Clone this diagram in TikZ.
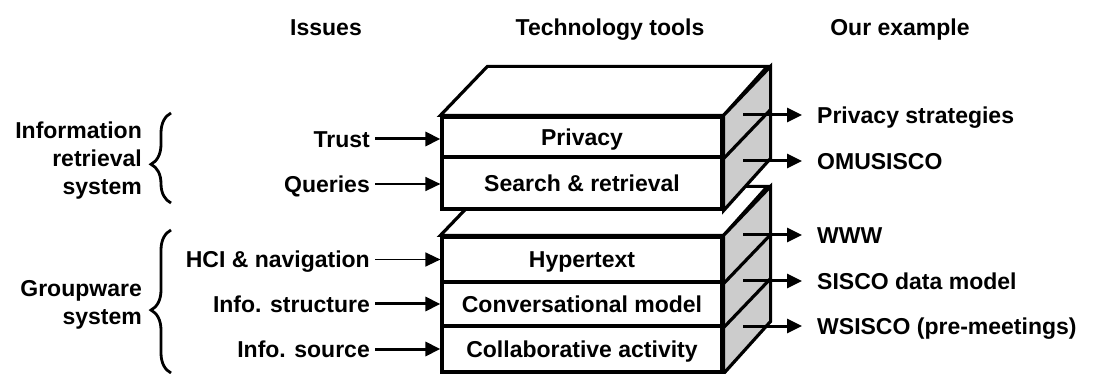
\documentclass[tikz,border=0pt]{standalone}
\usepackage{fontspec}
\setmainfont{Liberation Sans}
\usetikzlibrary{arrows.meta,decorations.pathreplacing}
\definecolor{sideface}{HTML}{CCCCCC}

\begin{document}
\begin{tikzpicture}[
  x=1pt,
  y=-1pt,
  font=\fontsize{23}{28}\selectfont\bfseries,
  edge/.style={draw=black,line width=3.2pt},
  row/.style={edge,fill=white,minimum width=280pt,inner sep=0pt,text height=16.5pt,text depth=0pt},
  topface/.style={edge,fill=white},
  sideface/.style={edge,fill=sideface},
  label/.style={inner sep=0pt,text height=16.5pt,text depth=0pt},
  group/.style={inner sep=0pt,align=right,anchor=east},
  thickarr/.style={line width=3pt,-{Triangle[length=15pt,width=14pt]}},
  thinarr/.style={line width=1.5pt,-{Triangle[length=15pt,width=14pt]}},
  grpbrace/.style={line width=2.8pt,decorate,decoration={brace,amplitude=20pt,aspect=#1}}
]
  \useasboundingbox (0,0) rectangle (1093,374);

  % Column headings.
  \node[label] (hissues) at (326,27) {Issues};
  \node[label] (htools) at (610,27) {Technology tools};
  \node[label] (hexample) at (900,27) {Our example};

  % Lower block (groupware layers), drawn first so the upper block covers it.
  \node[row,minimum height=45pt] (hypertext) at (582,259.5) {Hypertext};
  \node[row,minimum height=44pt] (conv) at (582,304) {Conversational model};
  \node[row,minimum height=46pt] (collab) at (582,349) {Collaborative activity};
  \path[topface] (hypertext.north west) -- ++(47,-49) -- ++(280,0) -- (hypertext.north east) -- cycle;
  \path[sideface] (hypertext.north east) -- ++(47,-49) -- ++(0,135) -- (collab.south east) -- cycle;
  \draw[edge] (hypertext.south east) -- ++(47,-49);
  \draw[edge] (conv.south east) -- ++(47,-49);

  % Upper block (information retrieval layers).
  \node[row,minimum height=40pt] (privacy) at (582,137) {Privacy};
  \node[row,minimum height=52pt] (search) at (582,183) {Search \& retrieval};
  \path[topface] (privacy.north west) -- ++(47,-49) -- ++(280,0) -- (privacy.north east) -- cycle;
  \path[sideface] (privacy.north east) -- ++(47,-49) -- ++(0,92) -- (search.south east) -- cycle;
  \draw[edge] (privacy.south east) -- ++(47,-49);

  % Issues feeding the layers.
  \node[label,anchor=east] (trust) at (370,139) {Trust};
  \node[label,anchor=east] (queries) at (370,184) {Queries};
  \node[label,anchor=east] (hci) at (370,259.5) {HCI \& navigation};
  \node[label,anchor=east] (infostruct) at (370,304) {Info. structure};
  \node[label,anchor=east] (infosource) at (370,349) {Info. source};
  \draw[thickarr,shorten <=5pt] (trust.east) -- (trust.east -| privacy.west);
  \draw[thinarr,shorten <=5pt] (queries.east) -- (queries.east -| search.west);
  \draw[thinarr,shorten <=5pt] (hci.east) -- (hypertext.west);
  \draw[thickarr,shorten <=5pt] (infostruct.east) -- (conv.west);
  \draw[thickarr,shorten <=5pt] (infosource.east) -- (collab.west);

  % Examples leaving the side faces.
  \coordinate (ps0) at (743,115);
  \coordinate (om0) at (743,161);
  \coordinate (www0) at (743,235);
  \coordinate (sdm0) at (743,281);
  \coordinate (ws0) at (743,326);
  \node[label,anchor=west] (ps) at (817,115) {Privacy strategies};
  \node[label,anchor=west] (om) at (817,161) {OMUSISCO};
  \node[label,anchor=west] (www) at (817,235) {WWW};
  \node[label,anchor=west] (sdm) at (817,281) {SISCO data model};
  \node[label,anchor=west] (ws) at (817,326) {WSISCO (pre-meetings)};
  \foreach \s/\t in {ps0/ps,om0/om,www0/www,sdm0/sdm,ws0/ws} {
    \draw[thickarr,shorten >=15pt] (\s) -- (\t.west);
  }

  % System groupings on the left.
  \node[group] (irsys) at (142,161) {Information\\retrieval\\system};
  \node[group] (gwsys) at (142,305) {Groupware\\system};
  \draw[grpbrace=0.43] (171,203) -- (171,113);
  \draw[grpbrace=0.44] (171,373) -- (171,230);
\end{tikzpicture}
\end{document}
